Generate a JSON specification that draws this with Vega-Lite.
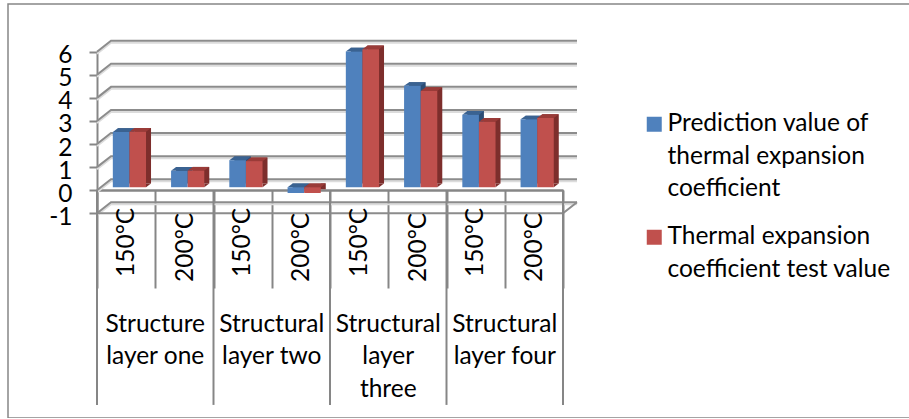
{
  "$schema": "https://vega.github.io/schema/vega-lite/v6.json",
  "autosize": {"type": "none"},
  "padding": {"left": 8, "top": 4, "right": 0, "bottom": 0},
  "width": 905,
  "height": 414,
  "background": "white",
  "view": {"stroke": "#868686", "strokeWidth": 1.5, "fill": "white"},
  "config": {
    "font": "Lato",
    "style": {"guide-label": {"lineHeight": 32.5}}
  },
  "data": {"values": [
    {"key": "one 150", "temp": "150°C", "layer": "Structure\nlayer one", "series": "Prediction value of thermal expansion coefficient", "value": 2.39},
    {"key": "one 200", "temp": "200°C", "layer": "Structure\nlayer one", "series": "Prediction value of thermal expansion coefficient", "value": 0.71},
    {"key": "two 150", "temp": "150°C", "layer": "Structural\nlayer two", "series": "Prediction value of thermal expansion coefficient", "value": 1.17},
    {"key": "two 200", "temp": "200°C", "layer": "Structural\nlayer two", "series": "Prediction value of thermal expansion coefficient", "value": -0.25},
    {"key": "three 150", "temp": "150°C", "layer": "Structural\nlayer\nthree", "series": "Prediction value of thermal expansion coefficient", "value": 5.88},
    {"key": "three 200", "temp": "200°C", "layer": "Structural\nlayer\nthree", "series": "Prediction value of thermal expansion coefficient", "value": 4.39},
    {"key": "four 150", "temp": "150°C", "layer": "Structural\nlayer four", "series": "Prediction value of thermal expansion coefficient", "value": 3.14},
    {"key": "four 200", "temp": "200°C", "layer": "Structural\nlayer four", "series": "Prediction value of thermal expansion coefficient", "value": 2.94},
    {"key": "one 150", "temp": "150°C", "layer": "Structure\nlayer one", "series": "Thermal expansion coefficient test value", "value": 2.4},
    {"key": "one 200", "temp": "200°C", "layer": "Structure\nlayer one", "series": "Thermal expansion coefficient test value", "value": 0.72},
    {"key": "two 150", "temp": "150°C", "layer": "Structural\nlayer two", "series": "Thermal expansion coefficient test value", "value": 1.13},
    {"key": "two 200", "temp": "200°C", "layer": "Structural\nlayer two", "series": "Thermal expansion coefficient test value", "value": -0.25},
    {"key": "three 150", "temp": "150°C", "layer": "Structural\nlayer\nthree", "series": "Thermal expansion coefficient test value", "value": 5.98},
    {"key": "three 200", "temp": "200°C", "layer": "Structural\nlayer\nthree", "series": "Thermal expansion coefficient test value", "value": 4.17},
    {"key": "four 150", "temp": "150°C", "layer": "Structural\nlayer four", "series": "Thermal expansion coefficient test value", "value": 2.84},
    {"key": "four 200", "temp": "200°C", "layer": "Structural\nlayer four", "series": "Thermal expansion coefficient test value", "value": 3.0}
  ]},
  "encoding": {
    "x": {
      "field": "key",
      "type": "nominal",
      "sort": null,
      "title": null,
      "scale": {
        "type": "band",
        "domain": ["one 150", "one 200", "two 150", "two 200", "three 150", "three 200", "four 150", "four 200"],
        "range": [89, 555],
        "paddingInner": 0,
        "paddingOuter": 0
      },
      "axis": {
        "orient": "bottom",
        "offset": -228,
        "labels": false,
        "tickBand": "extent",
        "tickSize": 98,
        "tickColor": "#868686",
        "tickWidth": 2,
        "domainColor": "#868686",
        "domainWidth": 2.5,
        "grid": false,
        "title": null
      }
    },
    "y": {
      "field": "value",
      "type": "quantitative",
      "title": null,
      "scale": {"domain": [-1, 6], "range": [209.3, 47.7], "nice": false, "zero": false},
      "axis": {
        "orient": "left",
        "offset": -89,
        "values": [-1, 0, 1, 2, 3, 4, 5, 6],
        "labelExpr": "'' + datum.value",
        "labelOverlap": false,
        "labelLineHeight": 20,
        "grid": false,
        "tickSize": 8,
        "tickColor": "#868686",
        "tickWidth": 2,
        "domainColor": "#868686",
        "domainWidth": 2,
        "labelFont": "Lato",
        "labelFontSize": 24.5,
        "labelColor": "black",
        "labelPadding": 17,
        "labelOffset": 4,
        "title": null
      }
    }
  },
  "layer": [
    {
      "data": {"values": [{"tick": -1}, {"tick": 0}, {"tick": 1}, {"tick": 2}, {"tick": 3}, {"tick": 4}, {"tick": 5}, {"tick": 6}]},
      "mark": {"type": "point", "shape": "M0 0L14 -11H480", "size": 4, "filled": false, "stroke": "#dcdcdc", "strokeWidth": 2, "opacity": 1, "yOffset": 2},
      "encoding": {
        "x": {"datum": "one 150", "bandPosition": 0},
        "y": {"field": "tick", "type": "quantitative"}
      }
    },
    {
      "data": {"values": [{"tick": -1}, {"tick": 0}, {"tick": 1}, {"tick": 2}, {"tick": 3}, {"tick": 4}, {"tick": 5}, {"tick": 6}]},
      "mark": {"type": "point", "shape": "M0 0L14 -11H480", "size": 4, "filled": false, "stroke": "#8c8c8c", "strokeWidth": 2, "opacity": 1},
      "encoding": {
        "x": {"datum": "one 150", "bandPosition": 0},
        "y": {"field": "tick", "type": "quantitative"}
      }
    },
    {
      "data": {"values": [{"tick": -1}]},
      "mark": {"type": "point", "shape": "M0 0H466L480 -11", "size": 4, "filled": false, "stroke": "#8c8c8c", "strokeWidth": 2, "opacity": 1},
      "encoding": {
        "x": {"datum": "one 150", "bandPosition": 0},
        "y": {"field": "tick", "type": "quantitative"}
      }
    },
    {
      "transform": [{"filter": "datum.series == 'Prediction value of thermal expansion coefficient' && datum.temp == '150°C'"}],
      "mark": {"type": "rule", "stroke": "#868686", "strokeWidth": 2},
      "encoding": {
        "x": {"field": "key", "type": "nominal", "bandPosition": 0},
        "y": {"datum": 0},
        "y2": {"datum": -9.3}
      }
    },
    {
      "transform": [{"filter": "datum.series == 'Prediction value of thermal expansion coefficient' && datum.key == 'four 200'"}],
      "mark": {"type": "rule", "stroke": "#868686", "strokeWidth": 2},
      "encoding": {
        "x": {"field": "key", "type": "nominal", "bandPosition": 1},
        "y": {"datum": 0},
        "y2": {"datum": -9.3}
      }
    },
    {
      "transform": [{"filter": "datum.series == 'Prediction value of thermal expansion coefficient'"}],
      "mark": {"type": "bar", "width": 16.6, "xOffset": 0, "yOffset": -6.7, "y2Offset": -6.7, "fill": "#2c4d75"},
      "encoding": {"y2": {"datum": 0}}
    },
    {
      "transform": [{"filter": "datum.series == 'Prediction value of thermal expansion coefficient' && datum.value >= 0"}],
      "mark": {"type": "point", "shape": "M-8.3 0H8.3L13.3 -3.7H-3.3Z", "size": 4, "filled": true, "fill": "#3a6291", "strokeWidth": 0, "opacity": 1, "xOffset": -5, "yOffset": -3}
    },
    {
      "transform": [{"filter": "datum.series == 'Prediction value of thermal expansion coefficient' && datum.value < 0"}],
      "mark": {"type": "point", "shape": "M-8.3 0H8.3L13.3 -3.7H-3.3Z", "size": 4, "filled": true, "fill": "#3a6291", "strokeWidth": 0, "opacity": 1, "xOffset": -5, "yOffset": -3},
      "encoding": {"y": {"datum": 0}}
    },
    {
      "transform": [{"filter": "datum.series == 'Prediction value of thermal expansion coefficient'"}],
      "mark": {"type": "bar", "width": 16.6, "xOffset": -5, "yOffset": -3, "y2Offset": -3},
      "encoding": {
        "y2": {"datum": 0},
        "color": {
          "field": "series",
          "type": "nominal",
          "title": null,
          "scale": {
            "domain": ["Prediction value of thermal expansion coefficient", "Thermal expansion coefficient test value"],
            "range": ["#4f81bd", "#c0504d"]
          },
          "legend": {
            "orient": "none",
            "legendX": 634,
            "legendY": 108,
            "symbolType": "square",
            "symbolSize": 225,
            "symbolStrokeWidth": 0,
            "rowPadding": 23,
            "labelOffset": 1,
            "labelLimit": 400,
            "labelFont": "Lato",
            "labelFontSize": 24.5,
            "labelColor": "black",
            "labelBaseline": "middle",
            "labelExpr": "datum.label == 'Prediction value of thermal expansion coefficient' ? ['Prediction value of', 'thermal expansion', 'coefficient'] : ['Thermal expansion', 'coefficient test value']"
          }
        }
      }
    },
    {
      "transform": [{"filter": "datum.series == 'Thermal expansion coefficient test value'"}],
      "mark": {"type": "bar", "width": 16.6, "xOffset": 16.6, "yOffset": -6.7, "y2Offset": -6.7, "fill": "#7d2e2c"},
      "encoding": {"y2": {"datum": 0}}
    },
    {
      "transform": [{"filter": "datum.series == 'Thermal expansion coefficient test value'"}],
      "mark": {"type": "point", "shape": "M0 0V-3.7H5Z", "size": 4, "filled": true, "fill": "#7d2e2c", "strokeWidth": 0, "opacity": 1, "xOffset": 19.9, "yOffset": -3},
      "encoding": {"y": {"datum": 0}}
    },
    {
      "transform": [{"filter": "datum.series == 'Thermal expansion coefficient test value' && datum.value >= 0"}],
      "mark": {"type": "point", "shape": "M-8.3 0H8.3L13.3 -3.7H-3.3Z", "size": 4, "filled": true, "fill": "#9a3b38", "strokeWidth": 0, "opacity": 1, "xOffset": 11.6, "yOffset": -3}
    },
    {
      "transform": [{"filter": "datum.series == 'Thermal expansion coefficient test value' && datum.value < 0"}],
      "mark": {"type": "point", "shape": "M-8.3 0H8.3L13.3 -3.7H-3.3Z", "size": 4, "filled": true, "fill": "#9a3b38", "strokeWidth": 0, "opacity": 1, "xOffset": 11.6, "yOffset": -3},
      "encoding": {"y": {"datum": 0}}
    },
    {
      "transform": [{"filter": "datum.series == 'Thermal expansion coefficient test value'"}],
      "mark": {"type": "bar", "width": 16.6, "xOffset": 11.6, "yOffset": -3, "y2Offset": -3},
      "encoding": {
        "y2": {"datum": 0},
        "color": {"field": "series", "type": "nominal", "title": null}
      }
    },
    {
      "transform": [{"filter": "datum.series == 'Prediction value of thermal expansion coefficient' && datum.temp == '150°C'"}],
      "mark": {"type": "text", "angle": 270, "align": "right", "baseline": "middle", "font": "Lato", "fontSize": 24.5, "fill": "black", "xOffset": 0.6, "yOffset": -5.5},
      "encoding": {"y": {"datum": -1}, "text": {"field": "temp"}}
    },
    {
      "transform": [{"filter": "datum.series == 'Prediction value of thermal expansion coefficient' && datum.temp == '200°C'"}],
      "mark": {"type": "text", "angle": 270, "align": "right", "baseline": "middle", "font": "Lato", "fontSize": 24.5, "fill": "black", "xOffset": 1.5, "yOffset": -0.5},
      "encoding": {"y": {"datum": -1}, "text": {"field": "temp"}}
    },
    {
      "transform": [{"filter": "datum.series == 'Prediction value of thermal expansion coefficient' && datum.temp == '150°C'"}],
      "mark": {"type": "text", "align": "center", "baseline": "alphabetic", "font": "Lato", "fontSize": 24.5, "fill": "black", "lineBreak": "\n", "lineHeight": 32.5},
      "encoding": {
        "x": {"field": "key", "type": "nominal", "bandPosition": 1},
        "y": {"datum": -6.14},
        "text": {"field": "layer"}
      }
    }
  ]
}
